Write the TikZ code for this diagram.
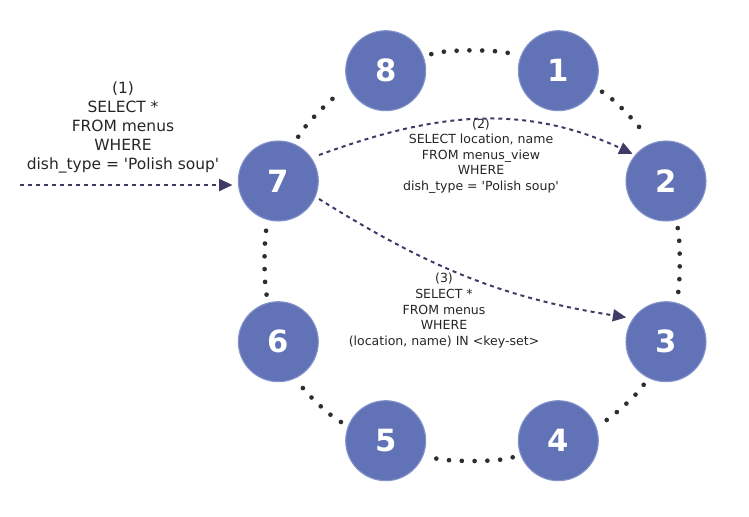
\documentclass[tikz,border=0pt]{standalone}
\usepackage{fontspec}
\setmainfont{DejaVu Sans}
\usetikzlibrary{arrows.meta}
\definecolor{ringblue}{HTML}{6173B6}
\definecolor{ringedge}{HTML}{8593CC}
\definecolor{querycol}{HTML}{3E3C66}
\definecolor{dotcol}{HTML}{2E2E2E}
\newcommand{\sq}{\textquotesingle}

\begin{document}
\begin{tikzpicture}[x=0.75pt, y=-0.75pt,
    replica/.style={circle, fill=ringblue, draw=ringedge, line width=0.8pt, minimum size=60pt, inner sep=0pt, text=white, font=\fontsize{23}{27}\selectfont\bfseries},
    ring/.style={dotcol, line width=3.5pt, line cap=round, dash pattern=on 0pt off 9.6pt, shorten <=6pt, shorten >=6pt, bend left=20, looseness=0.6},
    query/.style={querycol, line width=1.5pt, dash pattern=on 3pt off 3pt, -{Triangle[length=10pt,width=9pt]}},
    bigsql/.style={align=center, inner sep=0pt, text=black!85, font=\fontsize{11.6}{14.25}\selectfont},
    smallsql/.style={align=center, inner sep=0pt, text=black!85, font=\fontsize{9.4}{11.7}\selectfont}]
    \useasboundingbox (0,0) rectangle (749,517);
    % Nodes of the ring
    \node[replica] (n8) at (385.7,70.7) {8};
    \node[replica] (n1) at (558.3,70.7) {1};
    \node[replica] (n2) at (666,181) {2};
    \node[replica] (n3) at (666,341.7) {3};
    \node[replica] (n4) at (558.3,440.7) {4};
    \node[replica] (n5) at (385.7,440.7) {5};
    \node[replica] (n6) at (278.3,341.7) {6};
    \node[replica] (n7) at (278.3,181) {7};
    % Ring edges
    \draw[ring] (n8) to (n1);
    \draw[ring] (n1) to (n2);
    \draw[ring, bend left=14] (n2) to (n3);
    \draw[ring] (n3) to (n4);
    \draw[ring] (n4) to (n5);
    \draw[ring] (n5) to (n6);
    \draw[ring, bend left=14] (n6) to (n7);
    \draw[ring] (n7) to (n8);
    % Queries
    \coordinate (client) at (20,185);
    \draw[query, shorten >=4pt] (client) -- (n7.west |- client);
    \draw[query, shorten <=6pt, shorten >=2pt] (n7.35) to[out=20, in=155] (n2.140);
    \draw[query, shorten <=3pt, shorten >=5pt] (n7.-23) to[out=-32, in=171] (n3.145);
    % Query texts
    \node[bigsql] (q1) at (123,127) {(1)\\SELECT *\\FROM menus\\WHERE\\dish\_type = \sq Polish soup\sq};
    \node[smallsql] (q2) at (481,156) {(2)\\SELECT location, name\\FROM menus\_view\\WHERE\\dish\_type = \sq Polish soup\sq};
    \node[smallsql] (q3) at (444,310.7) {(3)\\SELECT *\\FROM menus\\WHERE\\(location, name) IN <key-set>};
\end{tikzpicture}
\end{document}
